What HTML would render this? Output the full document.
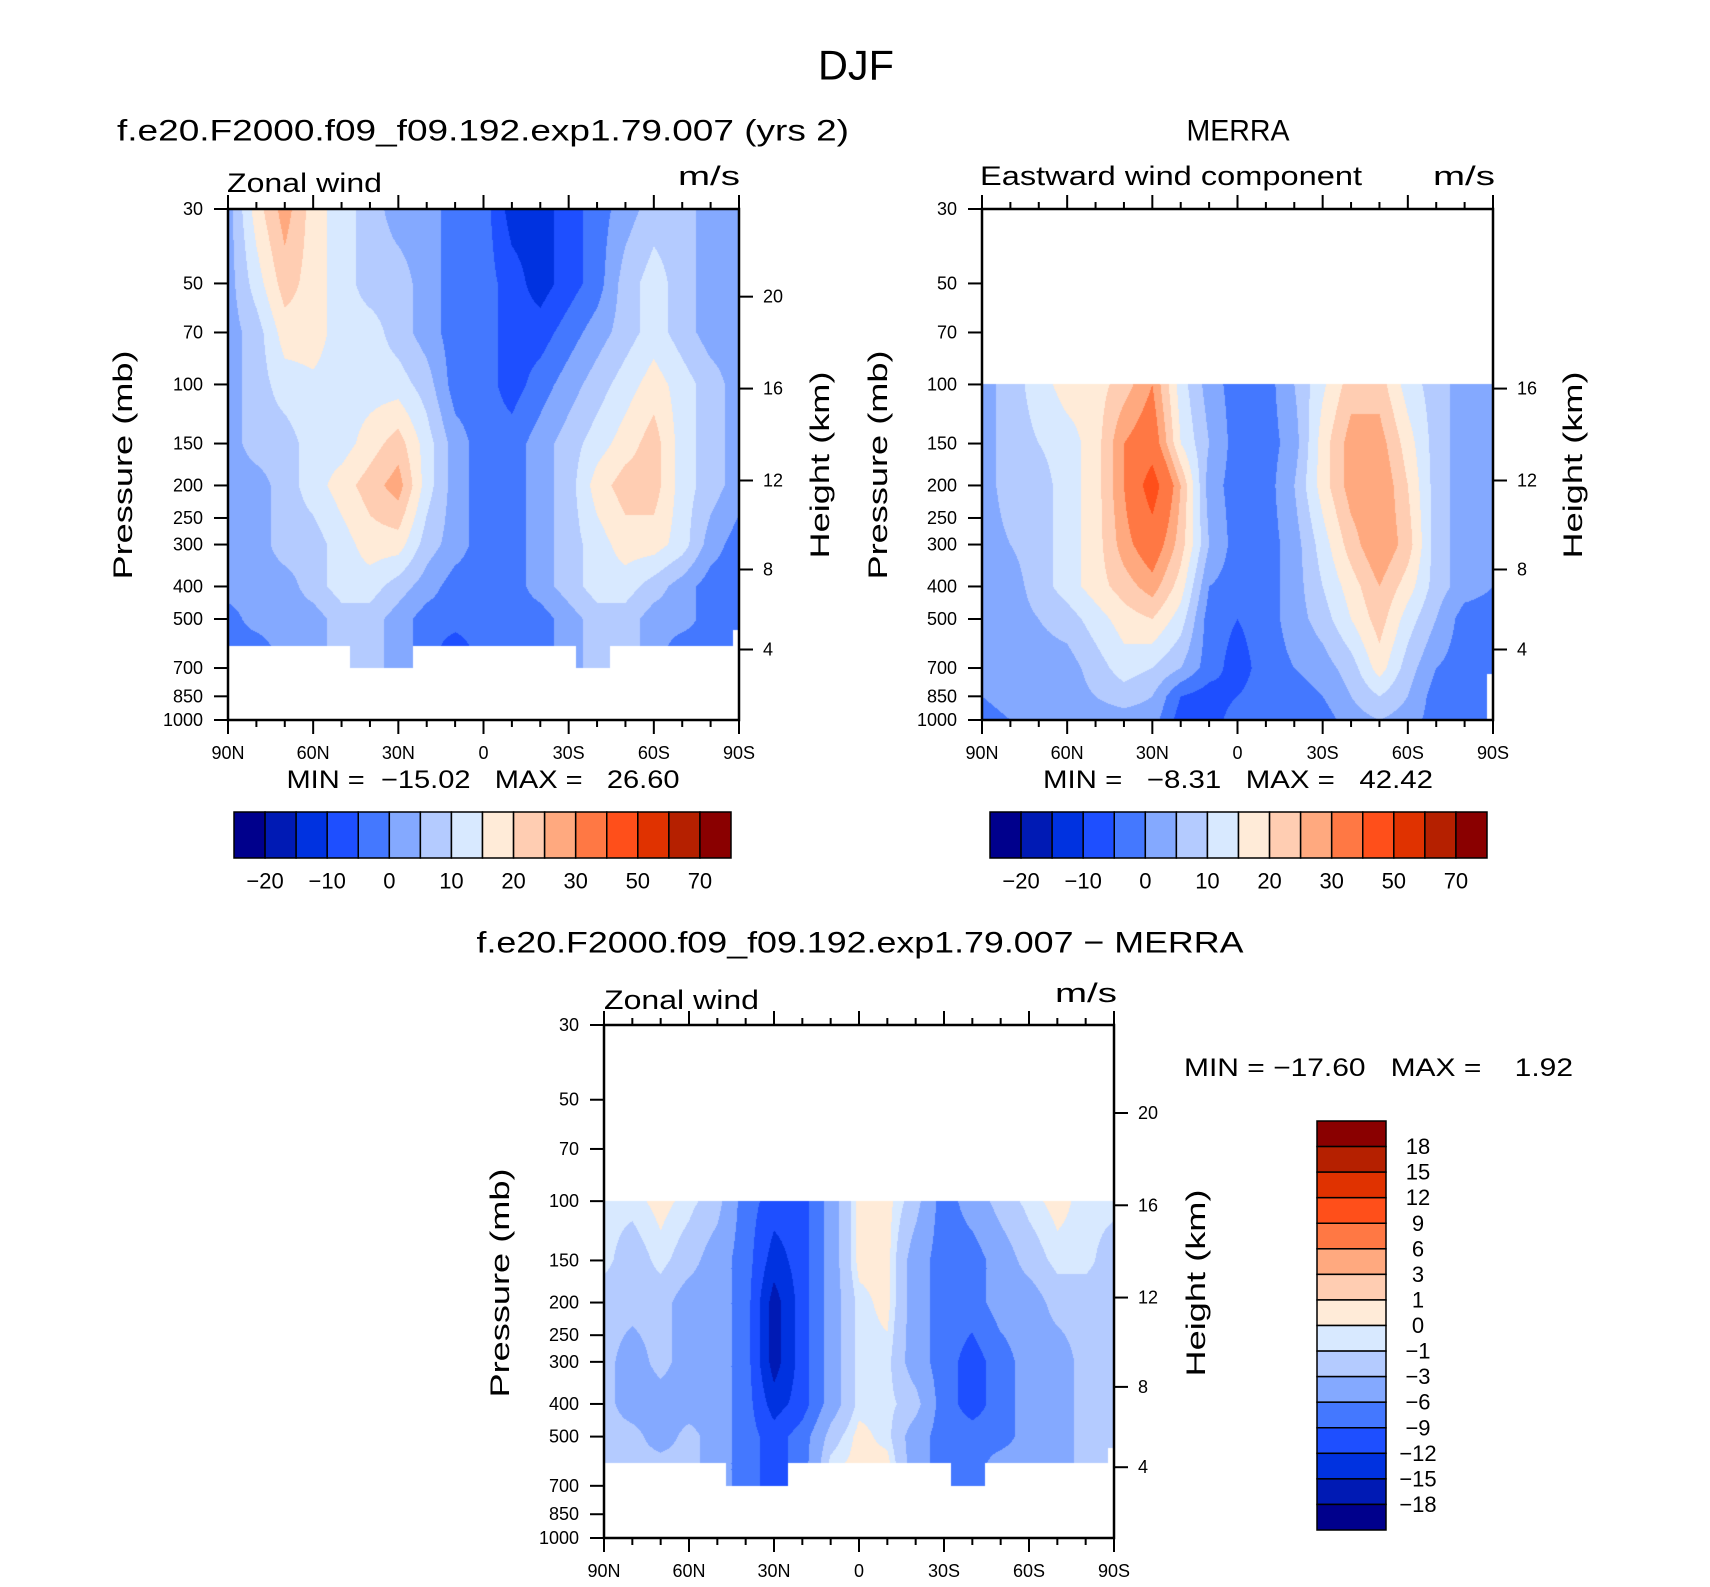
<!DOCTYPE html>
<html><head><meta charset="utf-8">
<style>
html,body{margin:0;padding:0;background:#fff;}
#root{position:relative;width:1710px;height:1587px;overflow:hidden;background:#fff;font-family:"Liberation Sans",sans-serif;}
canvas{position:absolute;}
svg{position:absolute;left:0;top:0;}
text{white-space:pre;}
</style></head>
<body>
<div id="root">
<canvas id="c1" width="511" height="511" style="left:228px;top:209px"></canvas>
<canvas id="c2" width="511" height="511" style="left:982px;top:209px"></canvas>
<canvas id="c3" width="510" height="513" style="left:604px;top:1025px"></canvas>
<svg id="s" width="1710" height="1587"></svg>
</div>
<script>
// ---- data ----
const lats = [90,80,70,60,50,40,30,20,10,0,-10,-20,-30,-40,-50,-60,-70,-80,-90];
const p1Levels = [30,50,70,100,150,200,300,400,500,600,700];
const p1Values = [
[2.5,17.5,27.5,17.5,12.5,7.5,2.5,2.5,-2.5,-2.5,-12.5,-12.5,-7.5,-2.5,2.5,7.5,7.5,2.5,2.5],
[2.5,12.5,22.5,17.5,12.5,7.5,7.5,2.5,-2.5,-2.5,-7.5,-12.5,-7.5,-2.5,7.5,12.5,7.5,2.5,2.5],
[2.5,7.5,17.5,17.5,12.5,12.5,7.5,2.5,-2.5,-2.5,-7.5,-7.5,-2.5,2.5,7.5,12.5,7.5,2.5,2.5],
[2.5,7.5,12.5,14,12.5,12.5,12.5,7.5,-2.5,-2.5,-7.5,-2.5,2.5,7.5,12.5,17.5,12.5,7.5,2.5],
[2.5,7.5,7.5,12.5,12.5,17.5,22.5,12.5,2.5,-2.5,-2.5,2.5,7.5,12.5,17.5,22.5,12.5,7.5,2.5],
[2.5,2.5,7.5,12.5,17.5,22.5,27.5,12.5,2.5,-2.5,-2.5,2.5,7.5,17.5,22.5,22.5,12.5,7.5,2.5],
[2.5,2.5,7.5,7.5,12.5,17.5,17.5,7.5,2.5,-2.5,-2.5,2.5,7.5,12.5,17.5,17.5,12.5,2.5,-2.5],
[2.5,2.5,2.5,7.5,12.5,12.5,7.5,2.5,-2.5,-2.5,-2.5,2.5,7.5,12.5,12.5,7.5,2.5,-2.5,-2.5],
[-2.5,2.5,2.5,2.5,7.5,7.5,2.5,-2.5,-2.5,-2.5,-2.5,-2.5,2.5,7.5,7.5,2.5,2.5,-2.5,-2.5],
[-2.5,-2.5,2.5,2.5,7.5,7.5,2.5,-2.5,-7.5,-2.5,-2.5,-2.5,2.5,7.5,7.5,2.5,-2.5,-2.5,-2.5],
[-2.5,-2.5,2.5,2.5,7.5,7.5,2.5,-2.5,-7.5,-2.5,-2.5,-2.5,2.5,7.5,7.5,2.5,-2.5,-2.5,-2.5]];
const p2Levels = [100,150,200,300,400,500,700,850,1000];
const p2Values = [
[2.5,7.5,12.5,17.5,17.5,22.5,30,12.5,2.5,-2.5,-2.5,5,14,22.5,22.5,12.5,7.5,2.5,2.5],
[2.5,7.5,10,12.5,17.5,30,35,15,5,-2.5,-2.5,2.5,17.5,27.5,27.5,17.5,7.5,2.5,2.5],
[2.5,7.5,7.5,12.5,17.5,30,45,25,2.5,-2.5,-2.5,5,17.5,27.5,30,20,7.5,2.5,2.5],
[2.5,5,7.5,12.5,17.5,27.5,35,22.5,5,-2.5,-2.5,2.5,12.5,22.5,30,22.5,7.5,2.5,2.5],
[2.5,2.5,7.5,12.5,17.5,22.5,27.5,17.5,0,-2.5,-2.5,2.5,10,17.5,25,17.5,7.5,2.5,0],
[2.5,2.5,5,7.5,12.5,17.5,20,12.5,-2.5,-5,-2.5,2.5,7.5,15,22.5,12.5,5,-2.5,-2.5],
[2.5,2.5,2.5,2.5,7.5,12.5,10,5,-2.5,-7.5,-2.5,0,2.5,7.5,17.5,7.5,0,-2.5,-2.5],
[0,2.5,2.5,2.5,5,7.5,5,-5,-7.5,-5,-2.5,-2.5,0,5,10,5,-2.5,-2.5,-2.5],
[-2.5,0,2.5,2.5,2.5,2.5,2.5,-7.5,-7.5,-2.5,-2.5,-2.5,-2.5,2.5,5,2.5,-2.5,-2.5,-5]];
const p3Levels = [100,150,200,300,400,500,600,700];
const p3Values = [
[-0.5,-0.5,0.5,-0.5,-2,-7.5,-10.5,-10.5,-4.5,0.5,0.5,-2,-7.5,-4.5,-2,-0.5,0.5,-0.5,-0.5],
[-0.5,-2,-0.5,-2,-4.5,-7.5,-13.5,-10.5,-4.5,0.5,0.5,-4.5,-7.5,-7.5,-4.5,-2,-0.5,-0.5,-2],
[-2,-2,-2,-4.5,-4.5,-7.5,-16.5,-10.5,-4.5,-0.5,0.5,-4.5,-7.5,-7.5,-4.5,-4.5,-2,-2,-2],
[-2,-4.5,-2,-4.5,-4.5,-7.5,-16.5,-10.5,-4.5,-0.5,-0.5,-4.5,-7.5,-10.5,-7.5,-4.5,-4.5,-2,-2],
[-2,-4.5,-4.5,-4.5,-4.5,-7.5,-13.5,-10.5,-4.5,-0.5,-0.5,-2,-7.5,-10.5,-7.5,-4.5,-4.5,-2,-2],
[-2,-2,-4.5,-2,-4.5,-7.5,-10.5,-7.5,-2,0.5,-0.5,-4.5,-7.5,-7.5,-7.5,-4.5,-4.5,-2,-2],
[-2,-2,-2,-2,-4.5,-7.5,-10.5,-7.5,-0.5,0.5,0.5,-4.5,-7.5,-7.5,-4.5,-4.5,-4.5,-2,-2],
[-2,-2,-2,-2,-4.5,-7.5,-10.5,-7.5,-0.5,0.5,0.5,-4.5,-7.5,-7.5,-4.5,-4.5,-4.5,-2,-2]];
const cnLevels1 = [-20,-15,-10,-5,0,5,10,15,20,25,30,40,50,60,70];
const cnLevels3 = [-18,-15,-12,-9,-6,-3,-1,0,1,3,6,9,12,15,18];
const cbLabels1 = ["−20","−10","0","10","20","30","50","70"];
const cbLabels3 = ["18","15","12","9","6","3","1","0","−1","−3","−6","−9","−12","−15","−18"];
const palette = ["#00008c","#001ab4","#0032e0","#1e4fff","#4478ff","#84a9ff","#b4cbff","#d8e9ff","#ffebd8","#ffcdb2","#ffa97f","#ff7844","#ff4f1a","#e03200","#b52000","#8a0000"];
const pTicks = [30,50,70,100,150,200,250,300,400,500,700,850,1000];
const zTicks = [4,8,12,16,20];
const latTicks = [90,60,30,0,-30,-60,-90];
const latLabels = ["90N","60N","30N","0","30S","60S","90S"];
const surfModel = 600;          // model data bottom (mb)
const deepBands = [[47,25],[-32.5,-44.5]]; // lat ranges where model data reaches 700 mb
const deepP = 700;
const edgeBand = [-88,-90]; const edgeP = 540; const merraEdgeP = 730;

// ---- helpers ----
const PT=30, PB=1000, LR=Math.log(PB/PT);
function yOf(P,p){return P.y+Math.log(p/PT)/LR*P.h;}
function xOf(P,lat){return P.x+(90-lat)/180*P.w;}
function zToP(z){return z<=11?1013.25*Math.pow(1-z/44.33,5.2559):226.32*Math.exp(-(z-11)/6.3416);}
function interp(levels,vals,p,lat){
  const lp=Math.log(p);
  let j=0; while(j<levels.length-2 && Math.log(levels[j+1])<lp) j++;
  let t=(lp-Math.log(levels[j]))/(Math.log(levels[j+1])-Math.log(levels[j])); t=Math.max(0,Math.min(1,t));
  let fi=(90-lat)/10; let i=Math.min(Math.floor(fi),lats.length-2); let s=fi-i;
  const a=vals[j][i]*(1-s)+vals[j][i+1]*s, b=vals[j+1][i]*(1-s)+vals[j+1][i+1]*s;
  return a*(1-t)+b*t;
}
function bin(v,lv){let k=0; while(k<lv.length && v>=lv[k]) k++; return k;}
function hex(c){return [parseInt(c.substr(1,2),16),parseInt(c.substr(3,2),16),parseInt(c.substr(5,2),16)];}
const palRGB=palette.map(hex);
function drawField(id,levels,vals,lv,surfFn){
  const cv=document.getElementById(id), ctx=cv.getContext('2d');
  const W=cv.width,H=cv.height, img=ctx.createImageData(W,H);
  for(let py=0;py<H;py++){
    const p=PT*Math.exp((py+0.5)/H*LR);
    for(let px=0;px<W;px++){
      const lat=90-(px+0.5)/W*180; let c=[255,255,255];
      if(p>=levels[0] && p<=surfFn(lat)){ c=palRGB[bin(interp(levels,vals,p,lat),lv)]; }
      const o=(py*W+px)*4; img.data[o]=c[0];img.data[o+1]=c[1];img.data[o+2]=c[2];img.data[o+3]=255;
    }
  }
  ctx.putImageData(img,0,0);
}
function modelSurf(lat){
  if(lat<=edgeBand[0]) return edgeP;
  for(const b of deepBands){ if(lat<=b[0]&&lat>=b[1]) return deepP; }
  return surfModel;
}
drawField('c1',p1Levels,p1Values,cnLevels1,modelSurf);
drawField('c2',p2Levels,p2Values,cnLevels1,(lat)=>lat<=edgeBand[0]?merraEdgeP:1000);
drawField('c3',p3Levels,p3Values,cnLevels3,modelSurf);

// ---- axes & text ----
const NS="http://www.w3.org/2000/svg", svg=document.getElementById('s');
function el(tag,attrs,text){const e=document.createElementNS(NS,tag);for(const k in attrs)e.setAttribute(k,attrs[k]);if(text!==undefined)e.textContent=text;svg.appendChild(e);return e;}
function txt(x,y,s,size,anchor,name,rot,len){
  const a={x:x,y:y,'font-size':size,'text-anchor':anchor||'middle','dominant-baseline':'central',fill:'#000','font-family':'Liberation Sans, sans-serif'};
  if(rot) a.transform='rotate(-90 '+x+' '+y+')';
  if(len){a.textLength=len;a.lengthAdjust='spacingAndGlyphs';}
  const e=el('text',a,s);
  
  
  return e;
}
function line(x1,y1,x2,y2,w,name){const e=el('line',{x1:x1,y1:y1,x2:x2,y2:y2,stroke:'#000','stroke-width':w||2});
  
  
  return e;}

function panel(P,key,showZ20){
  const r=el('rect',{x:P.x,y:P.y,width:P.w,height:P.h,fill:'none',stroke:'#000','stroke-width':2.5});
  
  
  for(let lat=90;lat>=-90;lat-=10){
    const x=xOf(P,lat), major=(lat%30===0);
    line(x,P.y+P.h,x,P.y+P.h+(major?14:7),2,key+'-x-tick');
    line(x,P.y,x,P.y-(major?14:7),2,key+'-top-tick');
  }
  latTicks.forEach((lat,i)=>txt(xOf(P,lat),P.y+P.h+33,latLabels[i],18,'middle',key+'-x-tick-label'));
  pTicks.forEach(p=>{const y=yOf(P,p); line(P.x,y,P.x-14,y,2,key+'-y-tick'); txt(P.x-25,y,String(p),18,'end',key+'-y-tick-label');});
  zTicks.forEach(z=>{const p=zToP(z); if(z===20&&!showZ20) return; const y=yOf(P,p); line(P.x+P.w,y,P.x+P.w+14,y,2,key+'-height-tick'); txt(P.x+P.w+24,y,String(z),18,'start',key+'-height-tick-label');});
}
const P1={x:228,y:209,w:511,h:511}, P2={x:982,y:209,w:511,h:511}, P3={x:604,y:1025,w:510,h:513};
panel(P1,'model',true); panel(P2,'merra',false); panel(P3,'diff',true);

txt(856,65,"DJF",42,'middle','figure-title',false,76);
txt(483,131,"f.e20.F2000.f09_f09.192.exp1.79.007 (yrs 2)",30,'middle','model-title',false,732);
txt(1238,131,"MERRA",30,'middle','merra-title',false,103);
txt(860,943,"f.e20.F2000.f09_f09.192.exp1.79.007 − MERRA",30,'middle','difference-title',false,767);
txt(227,183,"Zonal wind",27,'start','model-variable-label',false,155);
txt(740,176,"m/s",27,'end','model-units-label',false,62);
txt(980,176,"Eastward wind component",27,'start','merra-variable-label',false,382);
txt(1495,176,"m/s",27,'end','merra-units-label',false,62);
txt(604,1000,"Zonal wind",27,'start','diff-variable-label',false,155);
txt(1117,993,"m/s",27,'end','diff-units-label',false,62);
txt(123,465,"Pressure (mb)",27,'middle','model-y-axis-title',true,229);
txt(820,465,"Height (km)",27,'middle','model-height-axis-title',true,187);
txt(878,465,"Pressure (mb)",27,'middle','merra-y-axis-title',true,229);
txt(1573,465,"Height (km)",27,'middle','merra-height-axis-title',true,187);
txt(500,1283,"Pressure (mb)",27,'middle','diff-y-axis-title',true,229);
txt(1196,1283,"Height (km)",27,'middle','diff-height-axis-title',true,187);
txt(483,780,"MIN =  −15.02   MAX =   26.60",25,'middle','model-min-max',false,393);
txt(1238,780,"MIN =   −8.31   MAX =   42.42",25,'middle','merra-min-max',false,390);
txt(1184,1068,"MIN = −17.60   MAX =    1.92",25,'start','diff-min-max',false,389);

// horizontal colorbars
function hbar(x0,y0,w,h,key){
  const n=palette.length, cw=w/n;
  palette.forEach((c,i)=>{const r=el('rect',{x:x0+i*cw,y:y0,width:cw,height:h,fill:c,stroke:'#000','stroke-width':1.5});
    
    });
  cbLabels1.forEach((s,i)=>txt(x0+(1+2*i)*cw,y0+h+23,s,22,'middle',key+'-colorbar-label'));
}
hbar(234,812,497,46,'model'); hbar(990,812,497,46,'merra');
// vertical colorbar
(function(){const x0=1317,y0=1121,w=69,h=409,n=palette.length,ch=h/n;
  palette.slice().reverse().forEach((c,i)=>{const r=el('rect',{x:x0,y:y0+i*ch,width:w,height:ch,fill:c,stroke:'#000','stroke-width':1.5});
    
    });
  cbLabels3.forEach((s,i)=>txt(1418,y0+(i+1)*ch,s,22,'middle','diff-colorbar-label'));
})();
</script>
</body></html>
